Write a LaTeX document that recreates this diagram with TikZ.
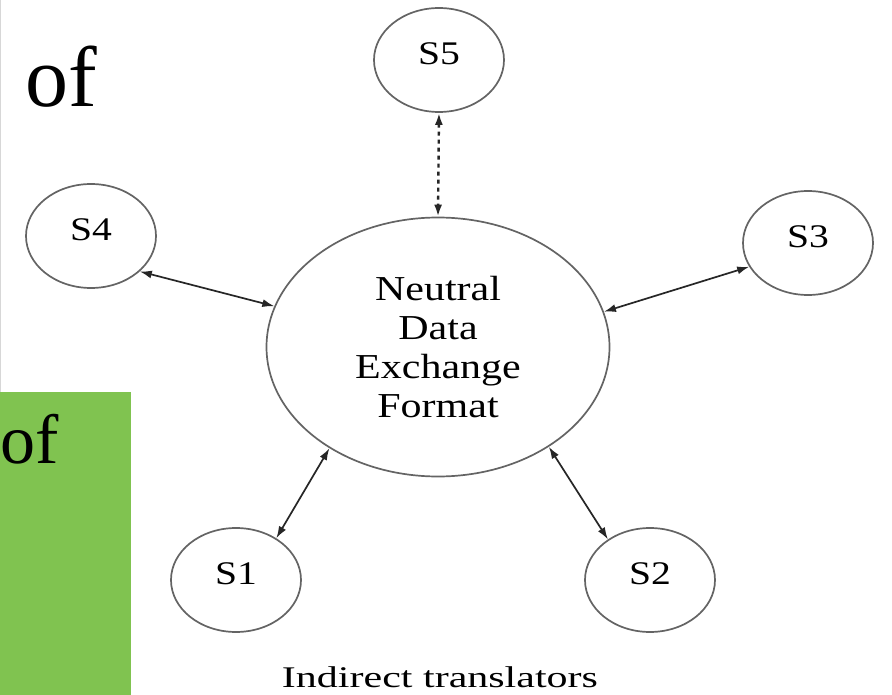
\documentclass[tikz,border=0pt]{standalone}
\usepackage{fontspec}
\setmainfont{Liberation Serif}
\usetikzlibrary{arrows.meta,shapes.geometric}
\definecolor{slidegreen}{RGB}{128,195,80}
\definecolor{rimgray}{RGB}{100,100,100}
\definecolor{edgegray}{RGB}{215,215,215}
\newcommand{\wide}[1]{\scalebox{1.2}[1]{#1}}

\begin{document}
\begin{tikzpicture}[x=1pt, y=-1pt,
  sys/.style={ellipse, draw=rimgray, line width=1.7pt, minimum width=130pt, minimum height=104pt,
              inner sep=0pt, text height=23pt, text depth=14pt, font=\fontsize{33}{36}\selectfont},
  hub/.style={ellipse, draw=rimgray, line width=1.7pt, minimum width=343pt, minimum height=259pt,
              inner sep=0pt, align=center, font=\fontsize{35}{39}\selectfont},
  arr/.style={{Latex[length=12pt,width=8pt]}-{Latex[length=12pt,width=8pt]}, line width=1.7pt, color=black!85},
  dotarr/.style={arr, line width=2.4pt, dash pattern=on 4pt off 4pt}]
\fill[white] (0,0) rectangle (892,695);
\useasboundingbox (0,0) rectangle (892,695);
% slide remains
\draw[edgegray, line width=1pt] (0.5,0) -- (0.5,392);
\node[anchor=base west, inner sep=0pt, font=\fontsize{86}{90}\selectfont] (ofa) at (25,107) {of};
\fill[slidegreen] (0,392) rectangle (131,695);
\node[anchor=base west, inner sep=0pt, font=\fontsize{70}{74}\selectfont] (ofb) at (0,463) {of};
% translators
\node[hub] (ndx) at (438,347) {\wide{Neutral}\\\wide{Data}\\\wide{Exchange}\\\wide{Format}};
\node[sys] (s5) at (439,60) {\wide{S5}};
\node[sys] (s4) at (91,236) {\wide{S4}};
\node[sys] (s3) at (808,243) {\wide{S3}};
\node[sys] (s1) at (236,580) {\wide{S1}};
\node[sys] (s2) at (650,580) {\wide{S2}};
\draw[dotarr] (s5.south) -- (ndx.north);
\draw[arr] (s4.-36) -- (ndx.166.7);
\draw[arr] (s3.202.6) -- (ndx.12.6);
\draw[arr] (s1.46.4) -- (ndx.223.9);
\draw[arr] (s2.136.3) -- (ndx.-42.9);
\node[anchor=base, inner sep=0pt, font=\fontsize{30}{34}\selectfont] (cap) at (440,687)
  {\scalebox{1.4}[1]{Indirect translators}};
\end{tikzpicture}
\end{document}
